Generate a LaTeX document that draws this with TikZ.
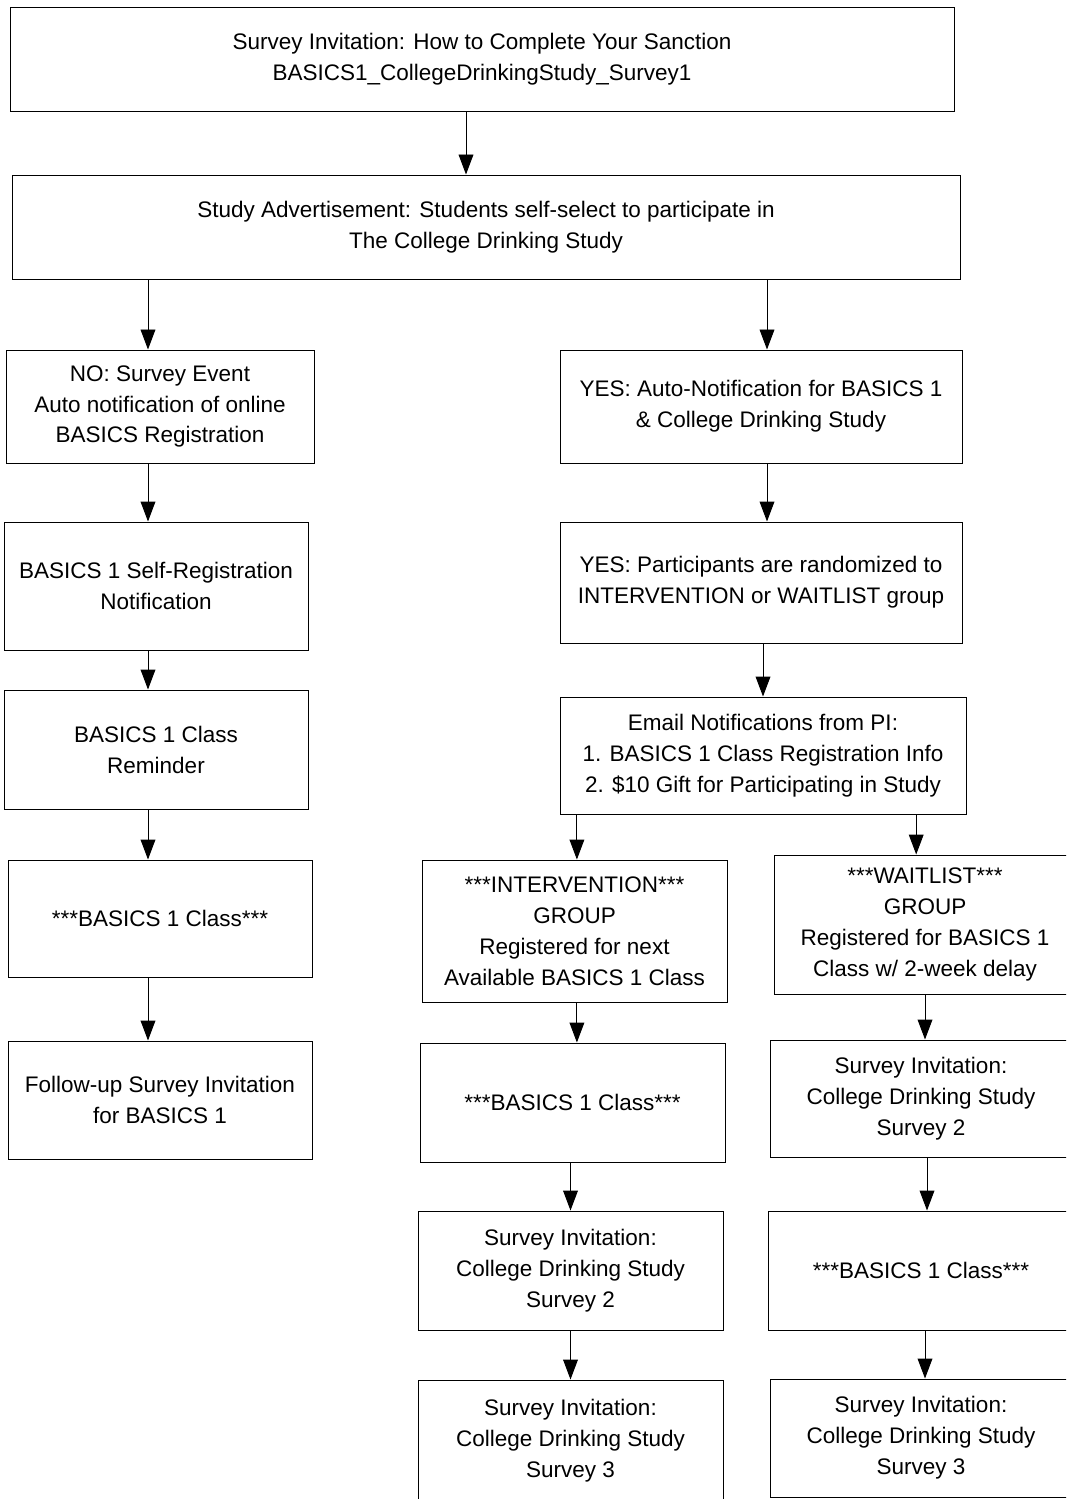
\documentclass[tikz,border=0pt]{standalone}
\usepackage{fontspec}
\setmainfont{Liberation Sans}
\usetikzlibrary{arrows.meta, positioning}

\begin{document}
\begin{tikzpicture}[x=0.025cm, y=-0.025cm,
  box/.style 2 args={draw, align=center, inner sep=0pt, line width=0.7pt,
    minimum width=#1*0.025cm, minimum height=#2*0.025cm,
    font=\fontsize{16}{22}\selectfont},
  arr/.style={line width=0.7pt, -{Triangle[width=0.37cm, length=0.5cm]}}]
\useasboundingbox (0,0) rectangle (1066,1499);
\clip (0,0) rectangle (1066,1499);
\node[box={944}{104}] (inv) at (482,59) {Survey Invitation: How to Complete Your Sanction\\BASICS1\_CollegeDrinkingStudy\_Survey1};
\node[box={948}{104}] (adv) at (486,227) {Study Advertisement: Students self-select to participate in\\The College Drinking Study};
% left branch
\node[box={308}{113}] (no) at (160,406.5) {NO: Survey Event\\Auto notification of online\\BASICS Registration};
\node[box={304}{128}] (self) at (156,586) {BASICS 1 Self-Registration\\Notification};
\node[box={304}{119}] (rem) at (156,749.5) {BASICS 1 Class\\Reminder};
\node[box={304}{117}] (cls) at (160,918.5) {***BASICS 1 Class***};
\node[box={304}{118}] (fol) at (160,1100) {Follow-up Survey Invitation\\for BASICS 1};
% right branch
\node[box={402}{113}] (yes) at (761,406.5) {YES: Auto-Notification for BASICS 1\\\& College Drinking Study};
\node[box={402}{121}] (rand) at (761,582.5) {YES: Participants are randomized to\\INTERVENTION or WAITLIST group};
\node[box={406}{117}] (mail) at (763,755.5) {Email Notifications from PI:\\1. BASICS 1 Class Registration Info\\2. \$10 Gift for Participating in Study};
\node[box={305}{142}] (int) at (574.5,931) {***INTERVENTION***\\GROUP\\Registered for next\\Available BASICS 1 Class};
\node[box={302}{139}] (wait) at (925,924.5) {***WAITLIST***\\GROUP\\Registered for BASICS 1\\Class w/ 2-week delay};
\node[box={305}{119}] (icls) at (572.5,1102.5) {***BASICS 1 Class***};
\node[box={302}{117}] (wsv2) at (921,1098.5) {Survey Invitation:\\College Drinking Study\\Survey 2};
\node[box={305}{119}] (isv2) at (570.5,1270.5) {Survey Invitation:\\College Drinking Study\\Survey 2};
\node[box={306}{119}] (wcls) at (921,1270.5) {***BASICS 1 Class***};
\node[box={305}{122}] (isv3) at (570.5,1441) {Survey Invitation:\\College Drinking Study\\Survey 3};
\node[box={302}{118}] (wsv3) at (921,1438) {Survey Invitation:\\College Drinking Study\\Survey 3};
\draw[arr] ([xshift=-0.4cm]inv.south) -- ([xshift=-0.4cm]inv.south |- adv.north);
\draw[arr] ([xshift=-0.3cm]no.north |- adv.south) -- ([xshift=-0.3cm]no.north);
\draw[arr] ([xshift=-0.2cm]self.north |- no.south) -- ([xshift=-0.2cm]self.north);
\draw[arr] ([xshift=-0.2cm]rem.north |- self.south) -- ([xshift=-0.2cm]rem.north);
\draw[arr] ([xshift=-0.3cm]cls.north |- rem.south) -- ([xshift=-0.3cm]cls.north);
\draw[arr] ([xshift=-0.3cm]fol.north |- cls.south) -- ([xshift=-0.3cm]fol.north);
\draw[arr] ([xshift=0.15cm]yes.north |- adv.south) -- ([xshift=0.15cm]yes.north);
\draw[arr] ([xshift=0.15cm]rand.north |- yes.south) -- ([xshift=0.15cm]rand.north);
\draw[arr] (mail.north |- rand.south) -- (mail.north);
\draw[arr] ([xshift=0.06cm]int.north |- mail.south) -- ([xshift=0.06cm]int.north);
\draw[arr] ([xshift=-0.22cm]wait.north |- mail.south) -- ([xshift=-0.22cm]wait.north);
\draw[arr] ([xshift=0.11cm]icls.north |- int.south) -- ([xshift=0.11cm]icls.north);
\draw[arr] ([xshift=0.1cm]wsv2.north |- wait.south) -- ([xshift=0.1cm]wsv2.north);
\draw[arr] (isv2.north |- icls.south) -- (isv2.north);
\draw[arr] ([xshift=0.15cm]wcls.north |- wsv2.south) -- ([xshift=0.15cm]wcls.north);
\draw[arr] (isv3.north |- isv2.south) -- (isv3.north);
\draw[arr] ([xshift=0.1cm]wsv3.north |- wcls.south) -- ([xshift=0.1cm]wsv3.north);
\end{tikzpicture}
\end{document}
